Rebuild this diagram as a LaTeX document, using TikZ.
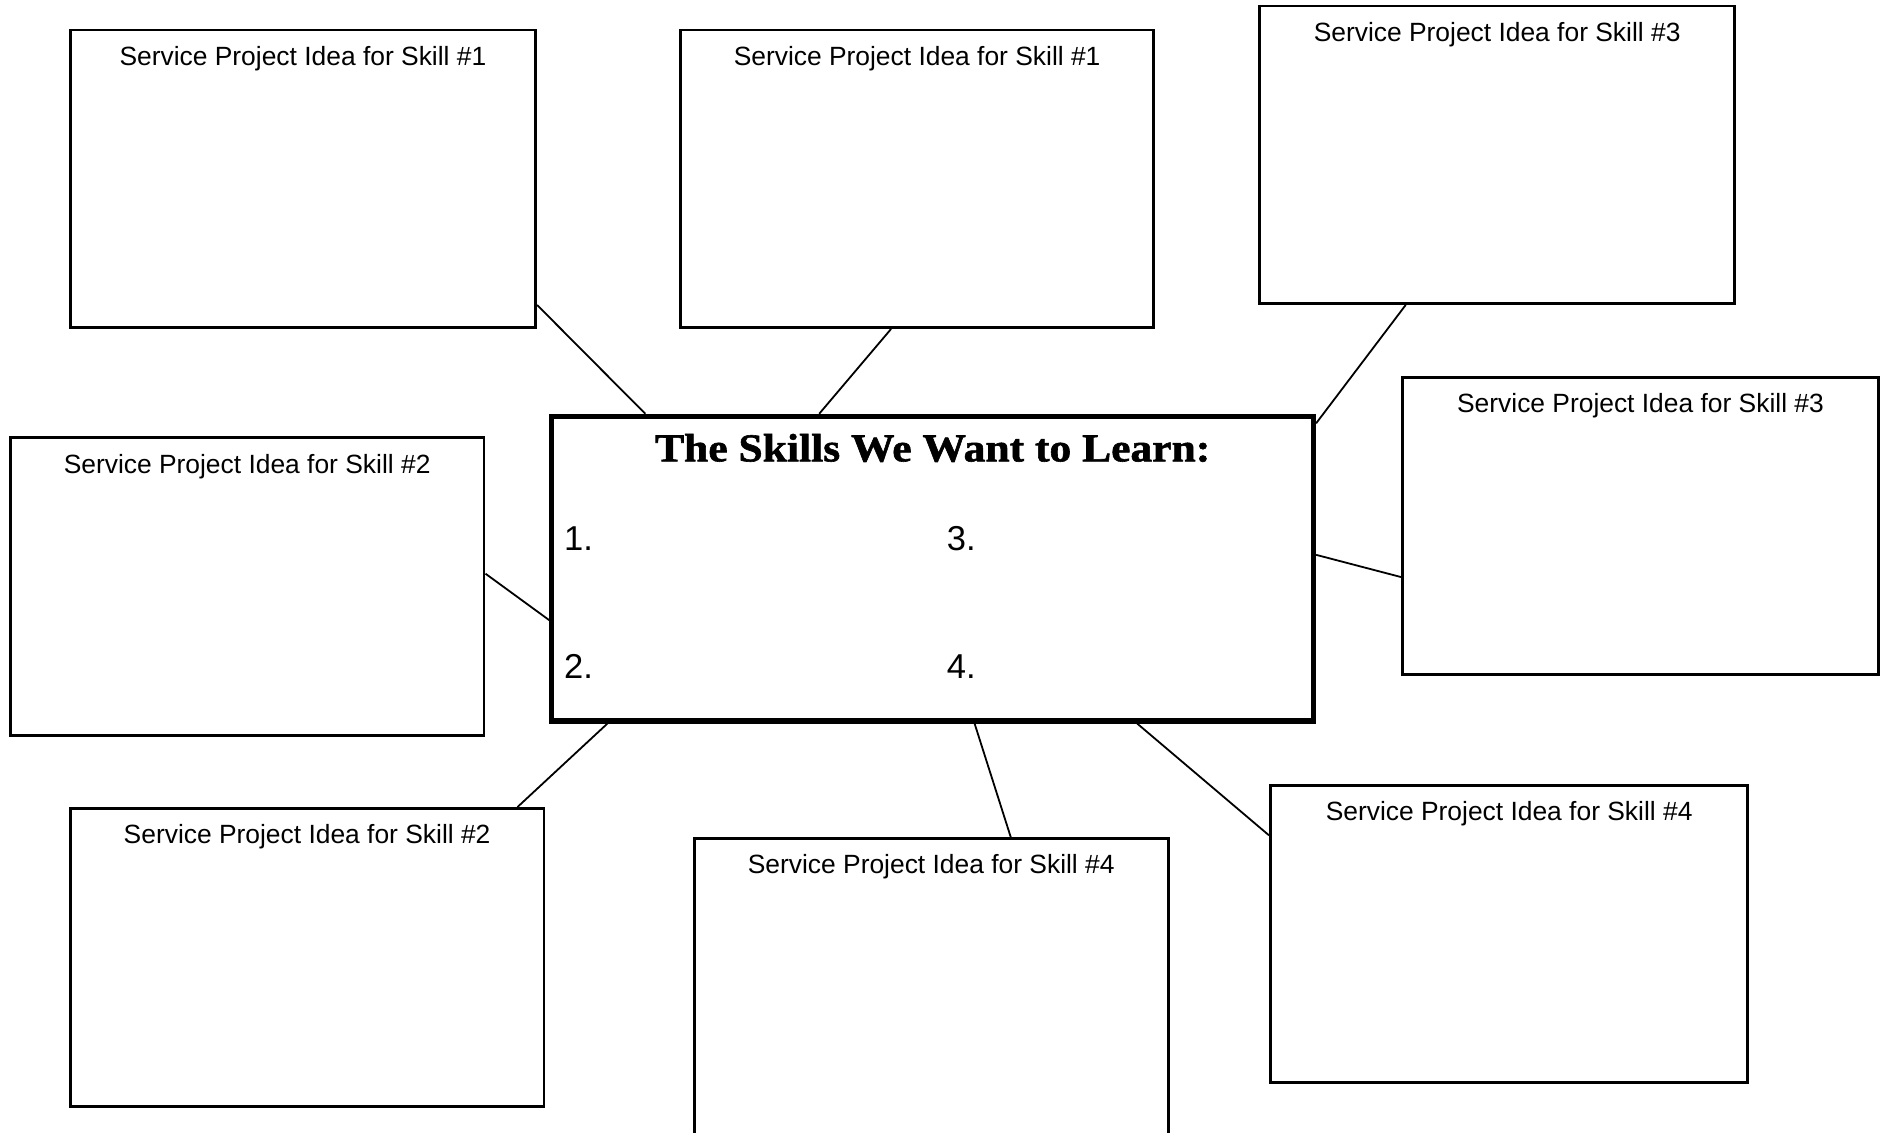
\documentclass[tikz,border=0pt]{standalone}
\usepackage{fontspec}
\setsansfont{Liberation Sans}
\newfontfamily\titlefont[FakeStretch=1.1,FakeBold=1.5]{Liberation Serif}
\begin{document}
\begin{tikzpicture}[x=0.5pt,y=-0.5pt,
  idea/.style={draw, line width=1.2pt, minimum height=124pt, inner sep=0pt,
    label={[anchor=base, yshift=-15.25pt, inner sep=0pt, font=\sffamily\fontsize{11}{13}\selectfont]north:Service Project Idea for Skill \##1}},
  num/.style={anchor=base west, inner sep=0pt, font=\sffamily\fontsize{14.4}{17}\selectfont},
  link/.style={draw, line width=0.75pt}]
\useasboundingbox (0,0) rectangle (1568,944);
% centre box
\node[draw, line width=2.1pt, minimum width=317.5pt, minimum height=127pt] (skills) at (777.5,474) {};
\node[anchor=base, inner sep=0pt, font=\titlefont\bfseries\fontsize{16.5}{19}\selectfont] (title) at ([yshift=-19.85pt]skills.north) {The Skills We Want to Learn:};
\node[num] (n1) at ([xshift=6pt,yshift=-57pt]skills.north west) {1.};
\node[num] (n2) at ([xshift=6pt,yshift=-110.5pt]skills.north west) {2.};
\node[num] (n3) at ([xshift=165.5pt,yshift=-57pt]skills.north west) {3.};
\node[num] (n4) at ([xshift=165.5pt,yshift=-110.5pt]skills.north west) {4.};
% idea boxes
\node[idea=1, minimum width=194pt] (p1a) at (252.5,149) {};
\node[idea=1, minimum width=197pt] (p1b) at (764.5,149) {};
\node[idea=2, minimum width=197.5pt] (p2a) at (206,489) {};
\node[idea=2, minimum width=197.5pt] (p2b) at (256,798) {};
\node[idea=3, minimum width=198pt] (p3a) at (1248,129) {};
\node[idea=3, minimum width=198.5pt] (p3b) at (1367.5,438.5) {};
\node[idea=4, minimum width=197.5pt] (p4a) at (776.25,823) {};
\node[idea=4, minimum width=199pt] (p4b) at (1258,778.5) {};
% connectors
\path[link] ([yshift=10pt]p1a.south east) -- ([xshift=40pt]skills.north west);
\path[link] ([xshift=88.25pt]p1b.south west) -- ([xshift=112.5pt]skills.north west);
\path[link] ([xshift=61.5pt]p3a.south west) -- ([yshift=-4pt]skills.north east);
\path[link] ([yshift=5.75pt]skills.east) -- ([yshift=-21.25pt]p3b.west);
\path[link] ([yshift=5.4pt]p2a.east) -- ([yshift=-21.5pt]skills.west);
\path[link] ([xshift=24.25pt]skills.south west) -- ([xshift=187pt]p2b.north west);
\path[link] ([xshift=177.25pt]skills.south west) -- ([xshift=132.5pt]p4a.north west);
\path[link] ([xshift=245pt]skills.south west) -- ([yshift=-21.5pt]p4b.north west);
\end{tikzpicture}
\end{document}
